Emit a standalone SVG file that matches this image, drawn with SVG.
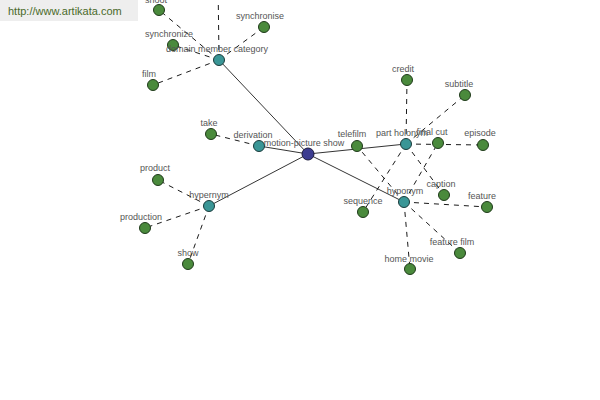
<svg xmlns="http://www.w3.org/2000/svg" width="600" height="400" viewBox="0 0 600 400">
<style>
.solid{stroke:#000;stroke-width:0.8;fill:none}
.dash{stroke:#000;stroke-width:0.9;stroke-dasharray:5,5;fill:none}
.leaf{fill:#4a8a3c;stroke:#1f3a1a;stroke-width:1}
.hub{fill:#3a9696;stroke:#1a3a3a;stroke-width:1}
.center{fill:#3c3c90;stroke:#1a1a3a;stroke-width:1}
text{font-family:"Liberation Sans",Arial,sans-serif;font-size:9px;fill:#555;text-anchor:middle}
.url{font-size:11px;fill:#4a6a2a;text-anchor:start}
</style>
<rect width="600" height="400" fill="#fff"/>
<rect x="0" y="0" width="138" height="21" fill="#eeeeee"/>
<text class="url" x="8" y="15">http://www.artikata.com</text>
<g id="connectors">
<line class="solid" x1="308" y1="154" x2="219" y2="60"/>
<line class="solid" x1="308" y1="154" x2="259" y2="146"/>
<line class="solid" x1="308" y1="154" x2="209" y2="206"/>
<line class="solid" x1="308" y1="154" x2="406" y2="144"/>
<line class="solid" x1="308" y1="154" x2="404" y2="202"/>
<line class="dash" x1="219" y1="60" x2="218" y2="-20"/>
<line class="dash" x1="219" y1="60" x2="159" y2="10"/>
<line class="dash" x1="219" y1="60" x2="264" y2="27"/>
<line class="dash" x1="219" y1="60" x2="173" y2="45"/>
<line class="dash" x1="219" y1="60" x2="153" y2="85"/>
<line class="dash" x1="259" y1="146" x2="211" y2="134"/>
<line class="dash" x1="209" y1="206" x2="158" y2="180"/>
<line class="dash" x1="209" y1="206" x2="145" y2="228"/>
<line class="dash" x1="209" y1="206" x2="188" y2="264"/>
<line class="dash" x1="406" y1="144" x2="407" y2="80"/>
<line class="dash" x1="406" y1="144" x2="465" y2="95"/>
<line class="dash" x1="406" y1="144" x2="483" y2="145"/>
<line class="dash" x1="406" y1="144" x2="363" y2="212"/>
<line class="dash" x1="406" y1="144" x2="444" y2="195"/>
<line class="dash" x1="404" y1="202" x2="357" y2="146"/>
<line class="dash" x1="404" y1="202" x2="438" y2="143"/>
<line class="dash" x1="404" y1="202" x2="487" y2="207"/>
<line class="dash" x1="404" y1="202" x2="460" y2="253"/>
<line class="dash" x1="404" y1="202" x2="410" y2="269"/>
</g>
<g id="n-shoot"><circle class="leaf" cx="159" cy="10" r="5.5"/><text x="156" y="3">shoot</text></g>
<g id="n-synchronise"><circle class="leaf" cx="264" cy="27" r="5.5"/><text x="260" y="19">synchronise</text></g>
<g id="n-synchronize"><circle class="leaf" cx="173" cy="45" r="5.5"/><text x="169" y="37">synchronize</text></g>
<g id="n-film"><circle class="leaf" cx="153" cy="85" r="5.5"/><text x="149" y="77">film</text></g>
<g id="n-take"><circle class="leaf" cx="211" cy="134" r="5.5"/><text x="209" y="126">take</text></g>
<g id="n-product"><circle class="leaf" cx="158" cy="180" r="5.5"/><text x="155" y="171">product</text></g>
<g id="n-production"><circle class="leaf" cx="145" cy="228" r="5.5"/><text x="141" y="220">production</text></g>
<g id="n-show"><circle class="leaf" cx="188" cy="264" r="5.5"/><text x="188" y="256">show</text></g>
<g id="n-telefilm"><circle class="leaf" cx="357" cy="146" r="5.5"/><text x="352" y="137">telefilm</text></g>
<g id="n-credit"><circle class="leaf" cx="407" cy="80" r="5.5"/><text x="403" y="72">credit</text></g>
<g id="n-subtitle"><circle class="leaf" cx="465" cy="95" r="5.5"/><text x="459" y="87">subtitle</text></g>
<g id="n-finalcut"><circle class="leaf" cx="438" cy="143" r="5.5"/><text x="432" y="135">final cut</text></g>
<g id="n-episode"><circle class="leaf" cx="483" cy="145" r="5.5"/><text x="480" y="136">episode</text></g>
<g id="n-caption"><circle class="leaf" cx="444" cy="195" r="5.5"/><text x="441" y="187">caption</text></g>
<g id="n-feature"><circle class="leaf" cx="487" cy="207" r="5.5"/><text x="482" y="199">feature</text></g>
<g id="n-featurefilm"><circle class="leaf" cx="460" cy="253" r="5.5"/><text x="452" y="245">feature film</text></g>
<g id="n-homemovie"><circle class="leaf" cx="410" cy="269" r="5.5"/><text x="409" y="262">home movie</text></g>
<g id="n-sequence"><circle class="leaf" cx="363" cy="212" r="5.5"/><text x="363" y="204">sequence</text></g>
<g id="n-dmc"><circle class="hub" cx="219" cy="60" r="5.5"/><text x="217" y="52">domain member category</text></g>
<g id="n-derivation"><circle class="hub" cx="259" cy="146" r="5.5"/><text x="253" y="138">derivation</text></g>
<g id="n-hypernym"><circle class="hub" cx="209" cy="206" r="5.5"/><text x="209" y="198">hypernym</text></g>
<g id="n-partholonym"><circle class="hub" cx="406" cy="144" r="5.5"/><text x="402" y="136">part holonym</text></g>
<g id="n-hyponym"><circle class="hub" cx="404" cy="202" r="5.5"/><text x="405" y="194">hyponym</text></g>
<g id="n-center"><circle class="center" cx="308" cy="154" r="6"/><text x="304" y="146">motion-picture show</text></g>
</svg>
